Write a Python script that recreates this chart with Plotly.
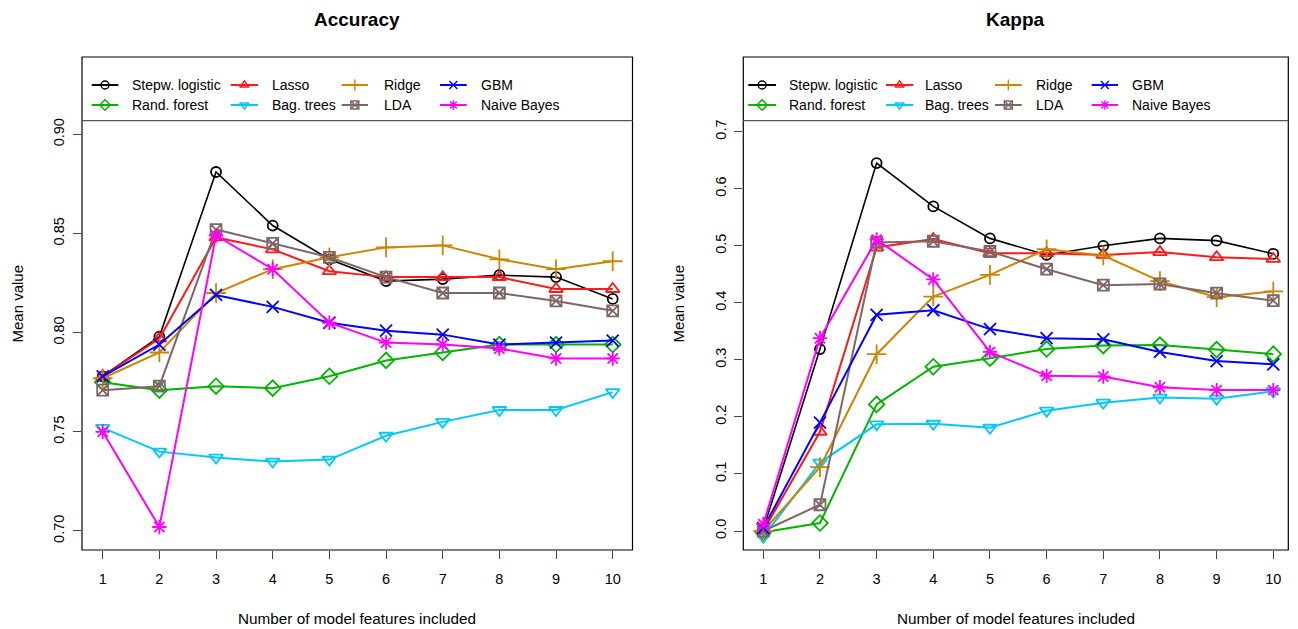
import plotly.graph_objects as go

# ---------------- data ----------------
features = [1, 2, 3, 4, 5, 6, 7, 8, 9, 10]
x_tick_labels = ["1", "2", "3", "4", "5", "6", "7", "8", "9", "10"]

methods = ["Stepw. logistic", "Rand. forest", "Lasso", "Bag. trees",
           "Ridge", "LDA", "GBM", "Naive Bayes"]

# Accuracy (mean value)
acc_stepw = [0.778, 0.798, 0.881, 0.854, 0.837, 0.826, 0.827, 0.829, 0.828, 0.817]
acc_rf    = [0.775, 0.771, 0.773, 0.772, 0.778, 0.786, 0.790, 0.794, 0.794, 0.794]
acc_lasso = [0.778, 0.797, 0.848, 0.842, 0.831, 0.828, 0.828, 0.828, 0.822, 0.822]
acc_bag   = [0.752, 0.740, 0.737, 0.735, 0.736, 0.748, 0.755, 0.761, 0.761, 0.770]
acc_ridge = [0.777, 0.790, 0.820, 0.832, 0.838, 0.843, 0.844, 0.837, 0.832, 0.836]
acc_lda   = [0.771, 0.773, 0.852, 0.845, 0.838, 0.828, 0.820, 0.820, 0.816, 0.811]
acc_gbm   = [0.778, 0.794, 0.819, 0.813, 0.805, 0.801, 0.799, 0.794, 0.795, 0.796]
acc_nb    = [0.750, 0.702, 0.849, 0.832, 0.805, 0.795, 0.794, 0.792, 0.787, 0.787]

# Kappa (mean value)
kap_stepw = [0.003, 0.319, 0.645, 0.569, 0.513, 0.484, 0.500, 0.513, 0.509, 0.486]
kap_rf    = [-0.002, 0.014, 0.222, 0.288, 0.303, 0.319, 0.325, 0.326, 0.318, 0.310]
kap_lasso = [0.000, 0.174, 0.497, 0.512, 0.487, 0.487, 0.484, 0.489, 0.480, 0.477]
kap_bag   = [-0.010, 0.120, 0.187, 0.188, 0.181, 0.211, 0.225, 0.234, 0.232, 0.245]
kap_ridge = [0.000, 0.112, 0.310, 0.411, 0.449, 0.494, 0.483, 0.438, 0.410, 0.420]
kap_lda   = [0.000, 0.046, 0.506, 0.508, 0.490, 0.459, 0.431, 0.433, 0.417, 0.404]
kap_gbm   = [0.005, 0.190, 0.379, 0.387, 0.354, 0.338, 0.336, 0.314, 0.298, 0.292]
kap_nb    = [0.012, 0.338, 0.511, 0.441, 0.314, 0.272, 0.271, 0.252, 0.247, 0.247]

acc_values = [acc_stepw, acc_rf, acc_lasso, acc_bag, acc_ridge, acc_lda, acc_gbm, acc_nb]
kap_values = [kap_stepw, kap_rf, kap_lasso, kap_bag, kap_ridge, kap_lda, kap_gbm, kap_nb]

acc_ticks = [0.70, 0.75, 0.80, 0.85, 0.90]
kap_ticks = [0.0, 0.1, 0.2, 0.3, 0.4, 0.5, 0.6, 0.7]

# ---------------- styles ----------------
colors = ["#000000", "#00B400", "#FF1A1A", "#00C8FF",
          "#CD8500", "#7F6666", "#0000FF", "#FF00FF"]
symbols = ["circle-open", "diamond-open", "triangle-up-open", "triangle-down-open",
           "cross-thin-open", "square-x-open", "x-thin-open", "asterisk-open"]
msizes = [10, 12, 12, 12, 14, 11, 12, 12]
lwidths = [1.6, 2, 2, 2, 2, 2, 2, 2]

FONT = "Liberation Sans, Arial, Helvetica, sans-serif"
W, H = 1298, 629


def px(x):
    return x / W


def py(y):
    return 1 - y / H


panels = [
    dict(xa="x", ya="y", x0=82, x1=632.5, xr=[0.6347, 10.349], yr=[0.6904, 0.939],
         vals=acc_values, title="Accuracy",
         legend_cols=[(91.7, 118.3, 130), (230.7, 258, 270), (341.7, 368, 381.7), (440, 466.7, 479.3)],
         ytitle_x=17),
    dict(xa="x2", ya="y2", x0=743.3, x1=1288.3, xr=[0.647, 10.265], yr=[-0.0333, 0.831],
         vals=kap_values, title="Kappa",
         legend_cols=[(748.3, 776, 787.3), (886, 913.3, 923.3), (995, 1021.7, 1034.3), (1091.7, 1118, 1130)],
         ytitle_x=678),
]

TOP, BOT, LEGEND_LINE = 57, 550, 120.7
ROWS = [85, 105]

fig = go.Figure()
shapes = []
annotations = []

for p in panels:
    for i, m in enumerate(methods):
        fig.add_trace(go.Scatter(
            x=features, y=p["vals"][i], mode="lines+markers", name=m,
            xaxis=p["xa"], yaxis=p["ya"], showlegend=False,
            line=dict(color=colors[i], width=lwidths[i]),
            marker=dict(symbol=symbols[i], size=msizes[i], color=colors[i],
                        line=dict(color=colors[i], width=1.8)),
        ))
    # box
    shapes.append(dict(type="rect", xref="paper", yref="paper",
                       x0=px(p["x0"]), x1=px(p["x1"]), y0=py(BOT), y1=py(TOP),
                       line=dict(color="#000000", width=1.2)))
    # legend separator
    shapes.append(dict(type="line", xref="paper", yref="paper",
                       x0=px(p["x0"]), x1=px(p["x1"]), y0=py(LEGEND_LINE), y1=py(LEGEND_LINE),
                       line=dict(color="#555555", width=1.2)))
    # legend entries
    for i, m in enumerate(methods):
        col, row = i // 2, i % 2
        lx0, lx1, tx = p["legend_cols"][col]
        yy = ROWS[row]
        shapes.append(dict(type="line", xref="paper", yref="paper",
                           x0=px(lx0), x1=px(lx1), y0=py(yy), y1=py(yy),
                           line=dict(color=colors[i], width=2)))
        fig.add_trace(go.Scatter(
            x=[(lx0 + lx1) / 2], y=[yy], mode="markers", xaxis="x3", yaxis="y3",
            showlegend=False, hoverinfo="skip",
            marker=dict(symbol=symbols[i], size=8, color=colors[i],
                        line=dict(color=colors[i], width=1.4)),
        ))
        annotations.append(dict(x=px(tx), y=py(yy), xref="paper", yref="paper",
                                text=m, showarrow=False, xanchor="left", yanchor="middle",
                                font=dict(size=14, color="#000000", family=FONT)))
    # titles
    cx = (p["x0"] + p["x1"]) / 2
    annotations.append(dict(x=px(cx), y=py(20), xref="paper", yref="paper",
                            text="<b>" + p["title"] + "</b>", showarrow=False,
                            xanchor="center", yanchor="middle",
                            font=dict(size=19, color="#000000", family=FONT)))
    annotations.append(dict(x=px(cx), y=py(618), xref="paper", yref="paper",
                            text="Number of model features included", showarrow=False,
                            xanchor="center", yanchor="middle",
                            font=dict(size=15.3, color="#000000", family=FONT)))
    annotations.append(dict(x=px(p["ytitle_x"]), y=py((TOP + BOT) / 2), xref="paper", yref="paper",
                            text="Mean value", showarrow=False, textangle=-90,
                            xanchor="center", yanchor="middle",
                            font=dict(size=15, color="#000000", family=FONT)))

axis_common = dict(showgrid=False, zeroline=False, showline=False,
                   ticks="outside", ticklen=8, tickwidth=1, tickcolor="#444444",
                   tickfont=dict(size=14.5, color="#000000", family=FONT))

p0, p1 = panels
fig.update_layout(
    width=W, height=H,
    margin=dict(l=0, r=0, t=0, b=0),
    paper_bgcolor="white", plot_bgcolor="rgba(0,0,0,0)",
    showlegend=False,
    xaxis=dict(domain=[px(p0["x0"]), px(p0["x1"])], range=p0["xr"],
               tickvals=features, ticktext=x_tick_labels, anchor="y",
               ticklabelstandoff=8, **axis_common),
    yaxis=dict(domain=[py(BOT), py(TOP)], range=p0["yr"], tickvals=acc_ticks,
               tickformat=".2f", tickangle=-90, anchor="x", ticklabelstandoff=3,
               **axis_common),
    xaxis2=dict(domain=[px(p1["x0"]), px(p1["x1"])], range=p1["xr"],
                tickvals=features, ticktext=x_tick_labels, anchor="y2",
                ticklabelstandoff=8, **axis_common),
    yaxis2=dict(domain=[py(BOT), py(TOP)], range=p1["yr"], tickvals=kap_ticks,
                tickformat=".1f", tickangle=-90, anchor="x2", ticklabelstandoff=3,
                **axis_common),
    xaxis3=dict(domain=[0, 1], range=[0, W], visible=False, anchor="y3", fixedrange=True),
    yaxis3=dict(domain=[0, 1], range=[H, 0], visible=False, anchor="x3", fixedrange=True),
    shapes=shapes,
    annotations=annotations,
    font=dict(family=FONT),
)

fig.write_html("out.html", config={"displayModeBar": False},
               post_script="document.body.style.margin='0';document.body.style.overflow='hidden';")
